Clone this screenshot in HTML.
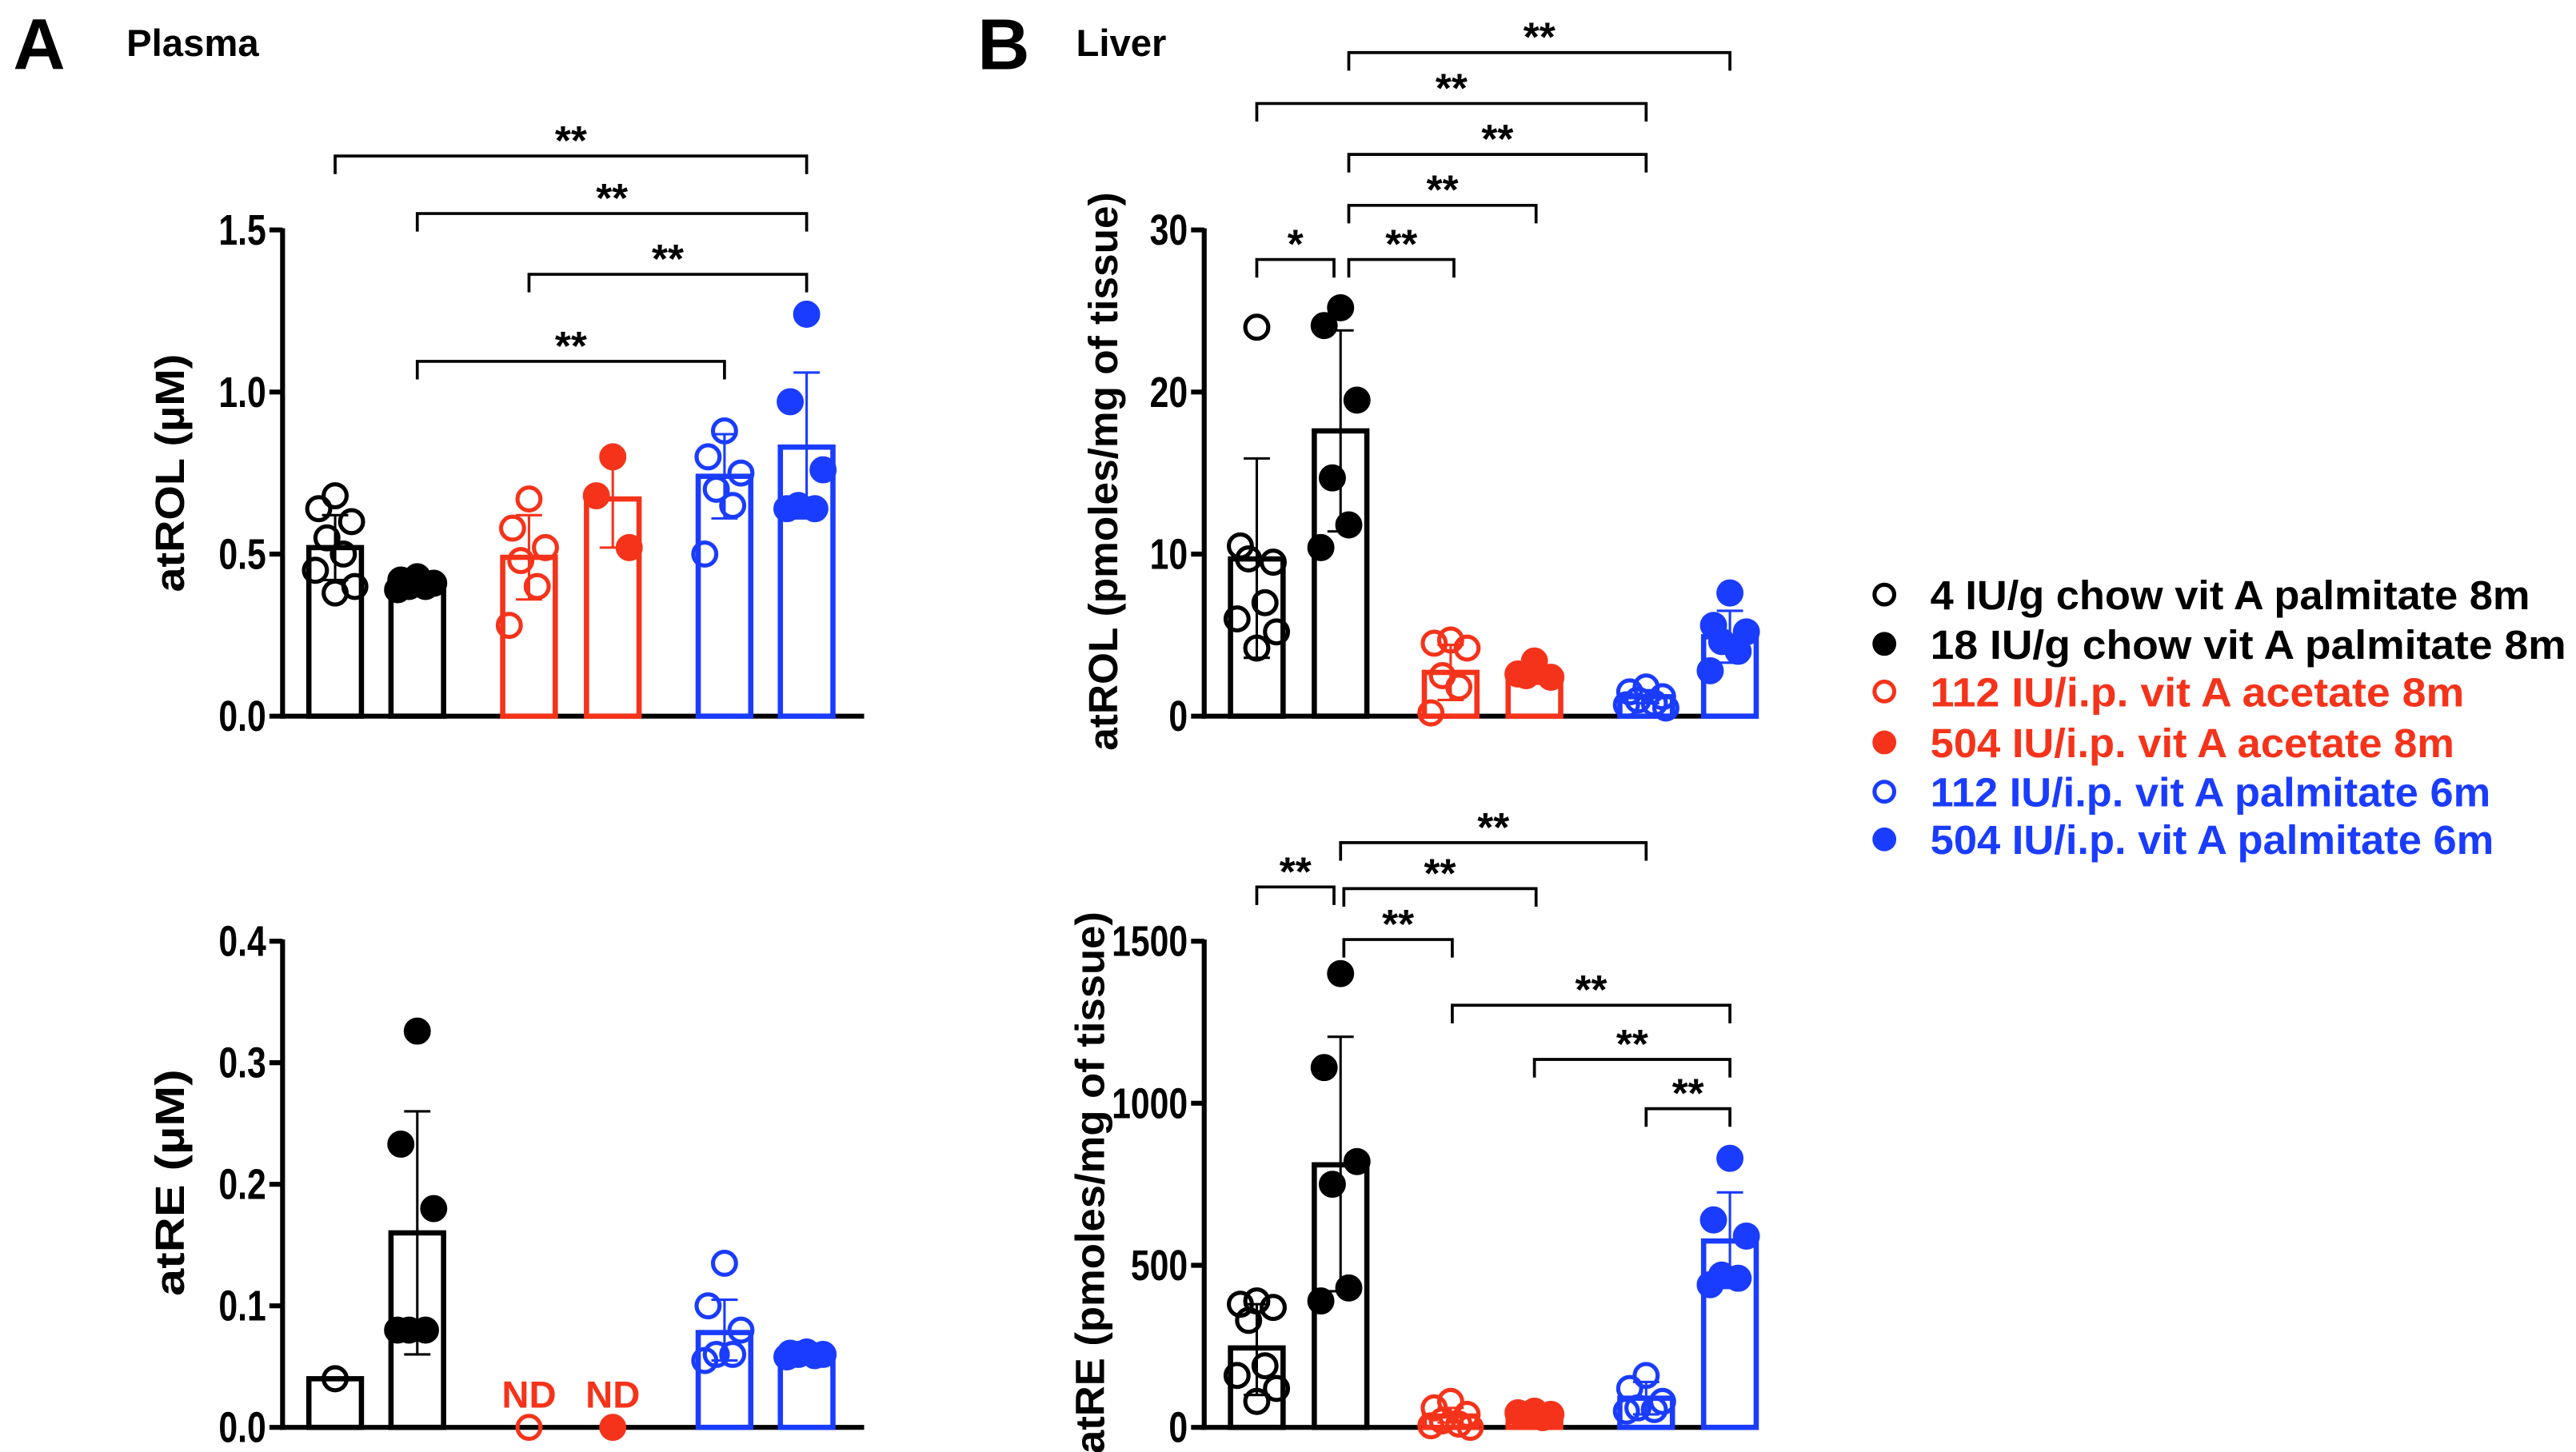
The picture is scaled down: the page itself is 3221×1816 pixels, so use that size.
<!DOCTYPE html>
<html><head><meta charset="utf-8"><style>
html,body{margin:0;padding:0;background:#fff;}
svg{display:block;font-family:"Liberation Sans",Arial,sans-serif;font-weight:bold;}
</style></head><body>
<svg id="fig" width="3221" height="1816" viewBox="0 0 1568 884" preserveAspectRatio="none" xmlns="http://www.w3.org/2000/svg">
<rect width="1568" height="884" fill="#fff"/>
<text x="8" y="42" font-size="44">A</text>
<text x="77" y="34" font-size="23">Plasma</text>
<text x="595" y="42" font-size="44">B</text>
<text x="655" y="34" font-size="23">Liver</text>
<g id="legend"></g>
</svg>
<script>
const groupColors = ["#000","#000","#f5331b","#f5331b","#1a3cff","#1a3cff"];
const groupFilled = [false,true,false,true,false,true];
const legendLabels = ["4 IU/g chow vit A palmitate 8m","18 IU/g chow vit A  palmitate 8m","112 IU/i.p. vit A  acetate 8m","504 IU/i.p. vit A acetate 8m","112 IU/i.p. vit A palmitate 6m","504 IU/i.p. vit A palmitate 6m"];

// Panel A top: plasma atROL
const aRolMeans = [0.52,0.41,0.49,0.67,0.74,0.83];
const aRolErrLo = [0.42,0.40,0.36,0.52,0.61,0.61];
const aRolErrHi = [0.62,0.42,0.62,0.81,0.87,1.06];
const aRolPoints = [[0.68,0.64,0.60,0.55,0.50,0.45,0.40,0.38],[0.43,0.42,0.41,0.40,0.40,0.39],[0.67,0.58,0.52,0.48,0.40,0.28],[0.80,0.68,0.52],[0.88,0.80,0.75,0.70,0.65,0.50],[1.24,0.97,0.76,0.65,0.64,0.64]];
const aRolTicks = [0,0.5,1.0,1.5];
const aRolTickLabels = ["0.0","0.5","1.0","1.5"];

// Panel A bottom: plasma atRE
const aReMeans = [0.04,0.16,null,null,0.078,0.06];
const aReErrLo = [0.04,0.06,null,null,0.055,0.056];
const aReErrHi = [0.04,0.26,null,null,0.105,0.064];
const aRePoints = [[0.04],[0.326,0.233,0.18,0.08,0.08,0.08],[0],[0],[0.135,0.10,0.08,0.06,0.06,0.055],[0.062,0.061,0.06,0.06,0.059,0.058]];
const aReTicks = [0,0.1,0.2,0.3,0.4];
const aReTickLabels = ["0.0","0.1","0.2","0.3","0.4"];

// Panel B top: liver atROL
const bRolMeans = [9.7,17.6,2.7,2.5,1.2,4.9];
const bRolErrLo = [3.6,11.4,1.0,2.0,0.8,3.3];
const bRolErrHi = [15.9,23.8,4.4,3.1,1.6,6.5];
const bRolPoints = [[24,10.5,9.5,9.7,7,6,5.2,4.2],[25.2,24.1,19.5,14.7,11.8,10.4],[4.7,4.5,4.2,2.5,1.8,0.2],[3.4,2.6,2.4,2.5],[1.8,1.5,1.2,1.0,0.8,0.7,0.5],[7.6,5.6,5.2,4.6,4.0,2.8]];
const bRolTicks = [0,10,20,30];
const bRolTickLabels = ["0","10","20","30"];

// Panel B bottom: liver atRE
const bReMeans = [245,810,35,40,90,575];
const bReErrLo = [100,420,15,32,40,430];
const bReErrHi = [380,1205,60,48,140,725];
const bRePoints = [[390,380,370,330,190,160,120,80],[1400,1110,820,750,430,390],[80,60,40,20,10,5,0],[50,45,40,35,30],[160,120,80,60,55,50],[830,640,590,470,460,440]];
const bReTicks = [0,500,1000,1500];
const bReTickLabels = ["0","500","1000","1500"];

const NS = "http://www.w3.org/2000/svg";
const svg = document.getElementById("fig");
function mk(tag, attrs, parent){const e=document.createElementNS(NS,tag);for(const k in attrs)e.setAttribute(k,attrs[k]);(parent||svg).appendChild(e);return e;}

const jit = [0,-10,10,-5,5,-12,12,0];
function panel(cfg){
  const g = mk("g",{});
  
  
  const y = v => cfg.y0 - (v - cfg.vmin)/(cfg.vmax - cfg.vmin)*(cfg.y0 - cfg.y1);
  const xs = cfg.xs;
  const ax = mk("line",{x1:cfg.ax,y1:cfg.y1-1,x2:cfg.ax,y2:cfg.y0+1.5,stroke:"#000","stroke-width":3},g);
  
  
  const bx = mk("line",{x1:cfg.ax-1.5,y1:cfg.y0,x2:cfg.axEnd,y2:cfg.y0,stroke:"#000","stroke-width":3},g);
  
  
  cfg.ticks.forEach((t,i)=>{
    mk("line",{x1:cfg.ax-8,y1:y(t),x2:cfg.ax,y2:y(t),stroke:"#000","stroke-width":3},g);
    const tl = mk("text",{x:0,y:0,"font-size":26,"text-anchor":"end",transform:`translate(${cfg.ax-10},${y(t)+9}) scale(0.8,1)`},g);
    tl.textContent = cfg.tickLabels[i];
    
    
  });
  const yt = mk("text",{x:0,y:0,"font-size":25,"text-anchor":"middle",textLength:cfg.titleLen,lengthAdjust:"spacingAndGlyphs",transform:`translate(${cfg.titleX},${cfg.titleY}) rotate(-90)`},g);
  yt.textContent = cfg.title;
  
  
  cfg.means.forEach((m,i)=>{
    const c = groupColors[i];
    if(m===null){
      const nd = mk("text",{x:xs[i],y:cfg.y0-12,"font-size":23,"text-anchor":"middle",fill:c},g);
      nd.textContent="ND";
      
      
    } else {
      const top = y(m);
      const b = mk("rect",{x:xs[i]-16,y:top,width:32,height:cfg.y0-top,fill:"none",stroke:c,"stroke-width":3.2},g);
      
      
    }
  });
  cfg.points.forEach((arr,i)=>{
    const c = groupColors[i];
    arr.forEach((v,j)=>{
      const dx = arr.length>1 ? jit[j%jit.length] : 0;
      const p = mk("circle",{cx:xs[i]+dx,cy:y(v),r:7,fill:groupFilled[i]?c:"none",stroke:c,"stroke-width":2.5},g);
      
      
    });
  });
  cfg.means.forEach((m,i)=>{
    if(m===null) return;
    const c = groupColors[i];
    const lo=y(cfg.lo[i]), hi=y(cfg.hi[i]);
    const e = mk("path",{d:`M${xs[i]},${lo}V${hi}M${xs[i]-8},${hi}H${xs[i]+8}M${xs[i]-8},${lo}H${xs[i]+8}`,stroke:c,"stroke-width":1.5,fill:"none"},g);
    
    
  });
  cfg.brackets.forEach(br=>{
    const [a,b,by,label] = br;
    const x1=xs[a]+(br[4]||0), x2=xs[b]+(br[5]||0);
    const p = mk("path",{d:`M${x1},${by+11}V${by}H${x2}V${by+11}`,stroke:"#000","stroke-width":1.8,fill:"none"},g);
    
    
    const t = mk("text",{x:(x1+x2)/2,y:by-1,"font-size":25,"text-anchor":"middle"},g);
    t.textContent = label;
    
    
  });
}
const xsA=[204,254,322,373,441,491], xsB=[765,816,883,934,1002,1053];
panel({name:"plasma-atrol-chart",xs:xsA,ax:172,axEnd:526,y0:436,y1:140,vmin:0,vmax:1.5,ticks:aRolTicks,tickLabels:aRolTickLabels,title:"atROL (µM)",titleLen:145,titleX:112,titleY:288,means:aRolMeans,lo:aRolErrLo,hi:aRolErrHi,points:aRolPoints,
  brackets:[[0,5,95,"**"],[1,5,130,"**"],[2,5,167,"**"],[1,4,220,"**"]]});
panel({name:"plasma-atre-chart",xs:xsA,ax:172,axEnd:526,y0:869,y1:573,vmin:0,vmax:0.4,ticks:aReTicks,tickLabels:aReTickLabels,title:"atRE (µM)",titleLen:138,titleX:112,titleY:720,means:aReMeans,lo:aReErrLo,hi:aReErrHi,points:aRePoints,brackets:[]});
panel({name:"liver-atrol-chart",xs:xsB,ax:733,axEnd:1070,y0:436,y1:140,vmin:0,vmax:30,ticks:bRolTicks,tickLabels:bRolTickLabels,title:"atROL (pmoles/mg of tissue)",titleLen:340,titleX:680,titleY:287,means:bRolMeans,lo:bRolErrLo,hi:bRolErrHi,points:bRolPoints,
  brackets:[[0,1,158,"*",0,-4],[1,2,158,"**",5,2],[1,3,125,"**",5,1],[1,4,94,"**",5,0],[0,4,63,"**",0,0],[1,5,32,"**",5,0]]});
panel({name:"liver-atre-chart",xs:xsB,ax:733,axEnd:1070,y0:869,y1:573,vmin:0,vmax:1500,ticks:bReTicks,tickLabels:bReTickLabels,title:"atRE (pmoles/mg of tissue)",titleLen:330,titleX:672,titleY:720,means:bReMeans,lo:bReErrLo,hi:bReErrHi,points:bRePoints,
  brackets:[[0,1,540,"**",0,-4],[1,2,572,"**",2,1],[1,3,541,"**",2,1],[1,4,513,"**",0,0],[2,5,612,"**",1,0],[3,5,645,"**",0,0],[4,5,675,"**",0,0]]});

const leg = document.getElementById("legend");
const legY = [362,392,421,452,482,511];
const legW = [365,387,325,319,341,343];
legendLabels.forEach((lab,i)=>{
  const c = groupColors[i];
  const m = mk("circle",{cx:1147,cy:legY[i],r:6,fill:groupFilled[i]?c:"#fff",stroke:c,"stroke-width":2.5},leg);
  
  
  const t = mk("text",{x:1175,y:legY[i]+9,"font-size":25,fill:c,textLength:legW[i],lengthAdjust:"spacingAndGlyphs"},leg);
  t.textContent = lab;
  
  
});
</script>
</body></html>
